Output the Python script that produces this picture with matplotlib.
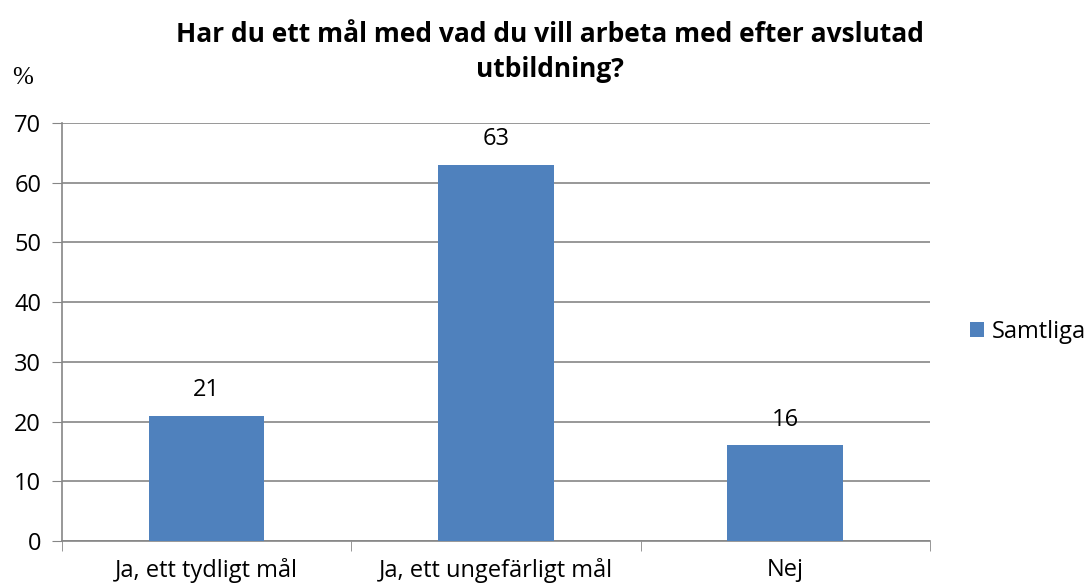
import matplotlib
matplotlib.use("Agg")
import matplotlib.pyplot as plt
import numpy as np

categories = ["Ja, ett tydligt mål", "Ja, ett ungefärligt mål", "Nej"]
values = [21, 63, 16]
series_name = "Samtliga"
title = "Har du ett mål med vad du vill arbeta med efter avslutad\nutbildning?"

plt.rcParams["font.family"] = ["Open Sans", "DejaVu Sans"]

fig = plt.figure(figsize=(10.89, 5.88), dpi=100)
ax = fig.add_axes([0.0569, 0.0799, 0.797, 0.711])

x = np.arange(len(categories))
bars = ax.bar(x, values, width=0.4, color="#4F81BD", label=series_name, zorder=3)
for b, v in zip(bars, values):
    ax.text(b.get_x() + b.get_width() / 2, v + 2.3, str(v), ha="center", va="bottom", fontsize=17)

ax.set_xlim(-0.5, len(categories) - 0.5)
ax.set_ylim(0, 70)
ax.set_yticks(range(0, 71, 10))
ax.set_xticks(x)
ax.set_xticklabels(categories, fontsize=17)
ax.set_xticks(np.arange(-0.5, len(categories), 1.0), minor=True)
ax.tick_params(axis="x", which="major", length=0, pad=12)
ax.tick_params(axis="x", which="minor", length=7, color="#868686")
ax.tick_params(axis="y", length=7, color="#868686", labelsize=17, pad=8)
ax.yaxis.grid(True, color="#868686", linewidth=1.2, zorder=0)
for s in ["top", "right"]:
    ax.spines[s].set_visible(False)
for s in ["left", "bottom"]:
    ax.spines[s].set_color("#868686")
    ax.spines[s].set_linewidth(1.2)

fig.text(0.505, 0.911, title, ha="center", va="center", fontsize=19, fontweight="bold", linespacing=1.38)
fig.text(0.011, 0.857, "%", fontsize=18, family="Liberation Serif")

ax.legend(loc="center left", bbox_to_anchor=(1.035, 0.5), frameon=False, fontsize=17,
          handlelength=0.6, handleheight=0.6, handletextpad=0.35, borderaxespad=0)

fig.savefig("out.png", dpi=100)
